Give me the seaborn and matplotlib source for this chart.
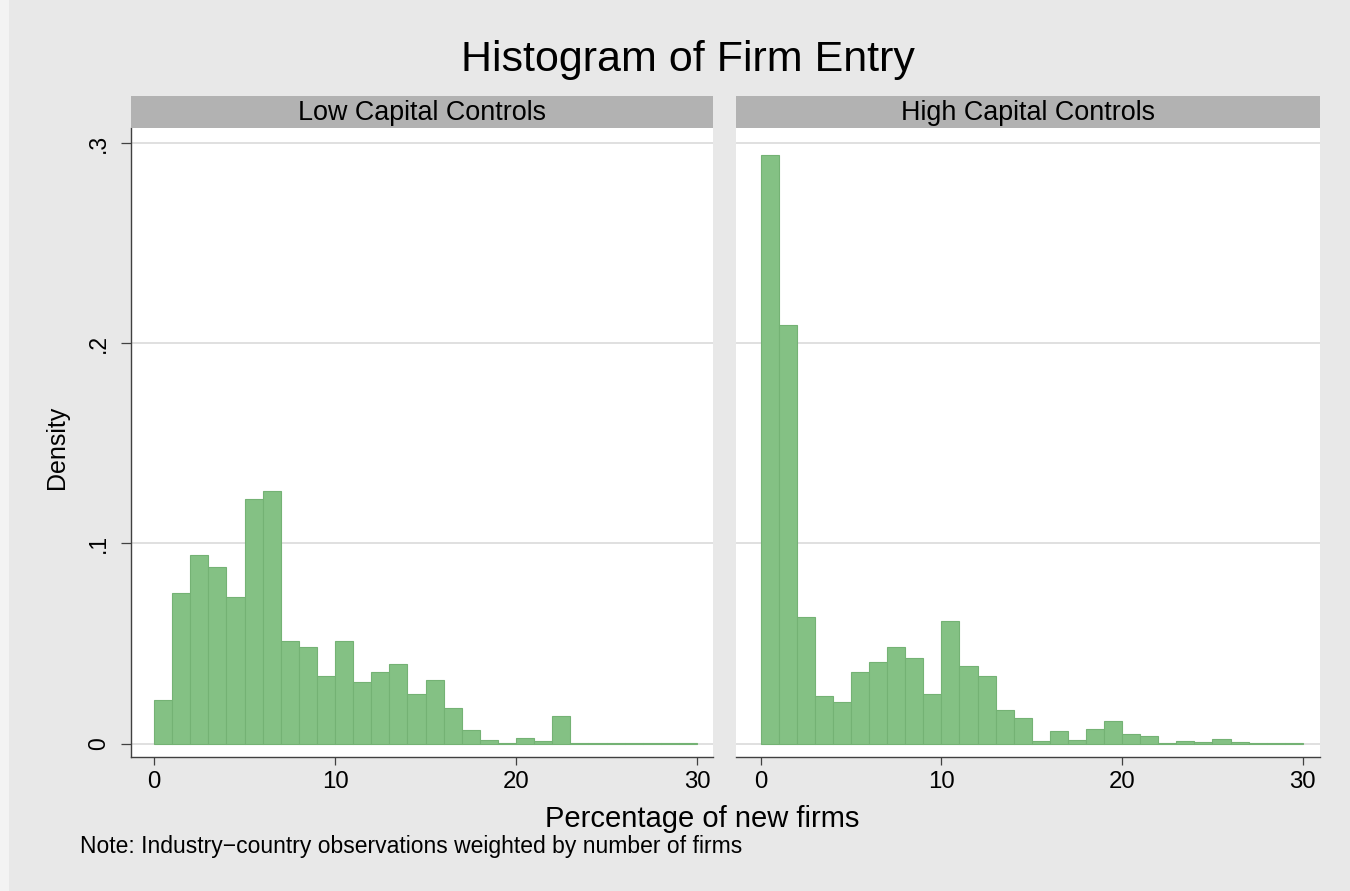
import numpy as np
import pandas as pd
import seaborn as sns
import matplotlib.pyplot as plt
from matplotlib.patches import Rectangle

# Density per 1-point bin (0-1, 1-2, ..., 29-30)
bin_start = list(range(30))
low_density = [0.022, 0.075, 0.094, 0.088, 0.073, 0.122, 0.126, 0.051, 0.048, 0.034,
               0.051, 0.031, 0.036, 0.040, 0.025, 0.032, 0.018, 0.007, 0.002, 0.0005,
               0.003, 0.0013, 0.0137, 0.0005, 0.0003, 0.0002, 0.0005, 0.0005, 0.0002, 0.0005]
high_density = [0.294, 0.209, 0.063, 0.024, 0.021, 0.036, 0.041, 0.048, 0.043, 0.025,
                0.061, 0.039, 0.034, 0.017, 0.013, 0.0015, 0.0063, 0.0017, 0.0075, 0.0112,
                0.0047, 0.0037, 0.0004, 0.0013, 0.0007, 0.0023, 0.0008, 0.0005, 0.0005, 0.0004]
panels = ["Low Capital Controls", "High Capital Controls"]
y_ticks = [0, 0.1, 0.2, 0.3]
y_labels = ["0", ".1", ".2", ".3"]
x_ticks = [0, 10, 20, 30]

centers = np.array(bin_start) + 0.5
df = pd.DataFrame({
    "pct": np.concatenate([centers, centers]),
    "density": low_density + high_density,
    "panel": [panels[0]] * 30 + [panels[1]] * 30,
})

sns.set_style("white")
plt.rcParams["font.family"] = ["Liberation Sans", "DejaVu Sans"]
plt.rcParams["text.color"] = "black"
plt.rcParams["xtick.color"] = "black"
plt.rcParams["ytick.color"] = "black"

bg = "#e8e8e8"
fig = plt.figure(figsize=(13.5, 8.91), dpi=100, facecolor=bg)
fig.patches.append(Rectangle((0, 0), 9 / 1350, 1, transform=fig.transFigure,
                             facecolor="#f3f3f3", edgecolor="none", zorder=-1))

W, H = 1350, 891
boxes = [(131, 582, (-1.271, 30.88)), (736, 584, (-1.367, 30.95))]

for i, (name, (x0, w, xl)) in enumerate(zip(panels, boxes)):
    ax = fig.add_axes([x0 / W, 1 - 757 / H, w / W, 629 / H])
    ax.set_facecolor("white")
    sub = df[df["panel"] == name]
    sns.histplot(data=sub, x="pct", weights="density",
                 binwidth=1, binrange=(0, 30), stat="count", color="#84c184", alpha=1,
                 edgecolor="#74b274", linewidth=0.8, ax=ax)
    ax.set_xlim(*xl)
    ax.set_ylim(-0.0067, 0.3075)
    ax.set_axisbelow(True)
    ax.yaxis.grid(True, color="#dadada", lw=1.2)
    ax.set_xlabel("")
    ax.set_ylabel("")
    ax.set_xticks(x_ticks)
    ax.set_xticklabels([str(t) for t in x_ticks])
    ax.set_yticks(y_ticks)
    for s in ["top", "right"]:
        ax.spines[s].set_visible(False)
    ax.spines["bottom"].set_color("#404040")
    ax.spines["bottom"].set_linewidth(1.0)
    ax.tick_params(axis="x", length=6, width=0.9, color="#404040", pad=4,
                   labelsize=17.3, labelcolor="black", bottom=True)
    if i == 0:
        ax.set_yticklabels(y_labels, rotation=90, va="center")
        ax.spines["left"].set_color("#404040")
        ax.spines["left"].set_linewidth(1.0)
        ax.tick_params(axis="y", length=7, width=0.9, color="#404040", pad=8,
                       labelsize=16.5, labelcolor="black", left=True)
    else:
        ax.spines["left"].set_visible(False)
        ax.set_yticklabels([])
        ax.tick_params(axis="y", length=0)

    # facet strip
    sax = fig.add_axes([x0 / W, 1 - 128 / H, w / W, 32 / H])
    sax.set_facecolor("#b2b2b2")
    sax.set_xticks([])
    sax.set_yticks([])
    for s in sax.spines.values():
        s.set_visible(False)
    sax.text(0.5, 0.47, name, ha="center", va="center", fontsize=19.4,
             color="black", transform=sax.transAxes)

fig.text(688 / W, 1 - 60 / H, "Histogram of Firm Entry", ha="center", va="center",
         fontsize=31)
fig.text(702 / W, 1 - 819 / H, "Percentage of new firms", ha="center", va="center",
         fontsize=21)
fig.text(57 / W, 1 - 447 / H, "Density", ha="center", va="center", rotation=90,
         fontsize=18)
fig.text(80 / W, 1 - 846 / H,
         "Note: Industry\u2212country observations weighted by number of firms",
         ha="left", va="center", fontsize=16.5)

fig.savefig("out.png", dpi=100, facecolor=bg)
